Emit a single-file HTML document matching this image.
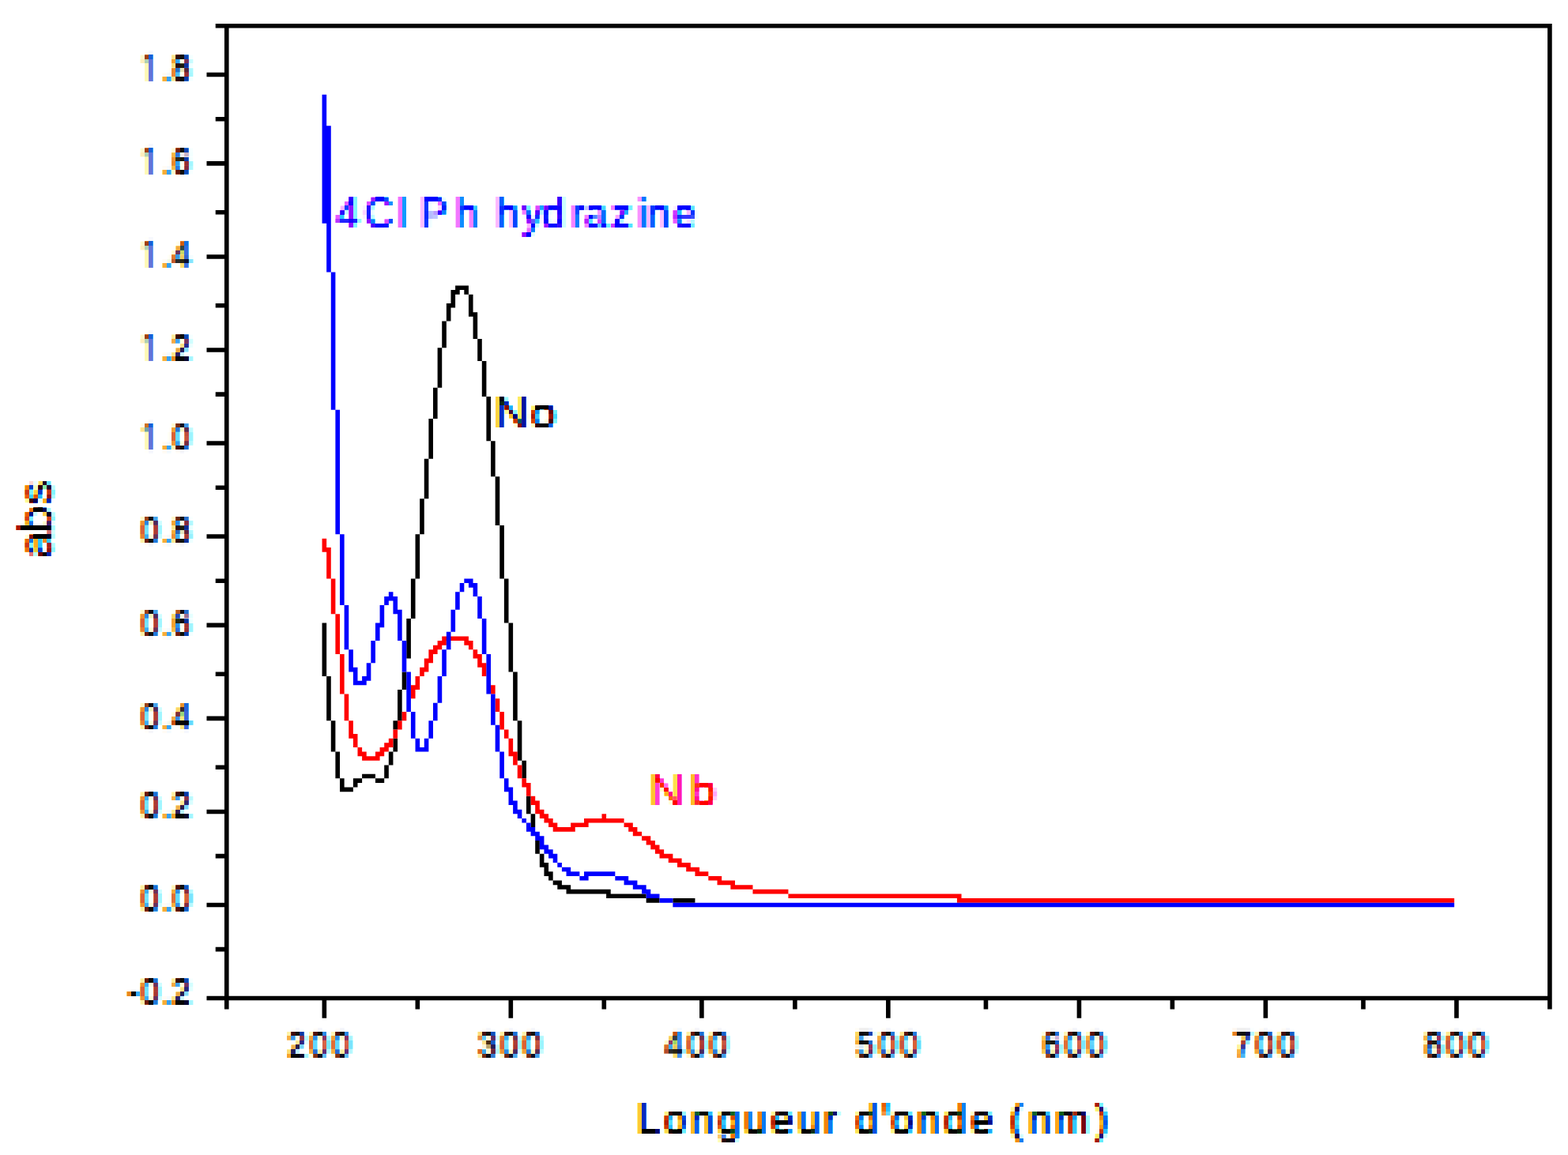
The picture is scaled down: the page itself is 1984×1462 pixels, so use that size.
<!DOCTYPE html>
<html lang="fr">
<head>
<meta charset="utf-8">
<title>Spectre UV-Vis</title>
<style>
html,body{margin:0;padding:0;background:#fff;}
body{width:1984px;height:1462px;overflow:hidden;}
svg{display:block;position:absolute;left:0;top:0;}
text{font-family:"Liberation Sans",sans-serif;white-space:pre;}
.one{font-family:"NanumGothic","Liberation Sans",sans-serif;}
</style>
</head>
<body>
<svg width="1984" height="1462" viewBox="0 0 1984 1462">
<rect width="1984" height="1462" fill="#fff"/>
<defs>
<filter id="pre-yticks" filterUnits="userSpaceOnUse" x="144" y="58" width="112" height="1225" color-interpolation-filters="sRGB">
<feColorMatrix in="SourceGraphic" type="matrix" values="0 0 0 0 0  0 0 0 0 0  0 0 0 0 0  0 -1 0 1 0" result="cov"/>
<feOffset in="cov" dx="0" dy="1" result="o1"/>
<feOffset in="cov" dx="0" dy="-1" result="o2"/>
<feMerge result="fat"><feMergeNode in="cov"/><feMergeNode in="o1"/><feMergeNode in="o2"/></feMerge>
<feGaussianBlur in="fat" stdDeviation="1.8 0.8" result="ink"/>
<feOffset in="ink" dx="2" dy="0" result="inkR"/>
<feOffset in="ink" dx="-2" dy="0" result="inkB"/>
<feColorMatrix in="inkR" type="matrix" values="0 0 0 1 0  0 0 0 0 0  0 0 0 0 0  0 0 0 0 1" result="LR"/>
<feColorMatrix in="ink" type="matrix" values="0 0 0 0 0  0 0 0 1 0  0 0 0 0 0  0 0 0 0 1" result="LG"/>
<feColorMatrix in="inkB" type="matrix" values="0 0 0 0 0  0 0 0 0 0  0 0 0 1 0  0 0 0 0 1" result="LB"/>
<feComposite in="LR" in2="LG" operator="arithmetic" k1="0" k2="1" k3="1" k4="0" result="RG"/>
<feComposite in="RG" in2="LB" operator="arithmetic" k1="0" k2="1" k3="1" k4="0"/>
</filter>
<filter id="post-yticks" filterUnits="userSpaceOnUse" x="144" y="58" width="112" height="1225" color-interpolation-filters="sRGB">
<feMorphology operator="dilate" radius="2"/>
<feColorMatrix type="matrix" values="-1 0 0 0 1  0 -1 0 0 1  0 0 -1 0 1  0 0 0 0 1"/>
</filter>
<clipPath id="vs-yticks"><path d="M146 58h1V1283h-1zM151 58h2V1283h-2zM157 58h1V1283h-1zM162 58h2V1283h-2zM168 58h2V1283h-2zM174 58h1V1283h-1zM179 58h2V1283h-2zM185 58h1V1283h-1zM190 58h2V1283h-2zM196 58h2V1283h-2zM202 58h1V1283h-1zM207 58h2V1283h-2zM213 58h2V1283h-2zM219 58h1V1283h-1zM224 58h2V1283h-2zM230 58h1V1283h-1zM235 58h2V1283h-2zM241 58h2V1283h-2zM247 58h1V1283h-1zM252 58h2V1283h-2z"/></clipPath>
<clipPath id="hs-yticks"><path d="M144 60H256v2H144zM144 66H256v1H144zM144 71H256v2H144zM144 77H256v1H144zM144 82H256v2H144zM144 88H256v2H144zM144 94H256v1H144zM144 99H256v2H144zM144 105H256v2H144zM144 111H256v1H144zM144 116H256v2H144zM144 122H256v1H144zM144 127H256v2H144zM144 133H256v2H144zM144 139H256v1H144zM144 144H256v2H144zM144 150H256v2H144zM144 156H256v1H144zM144 161H256v2H144zM144 167H256v1H144zM144 172H256v2H144zM144 178H256v2H144zM144 184H256v1H144zM144 189H256v2H144zM144 195H256v2H144zM144 201H256v1H144zM144 206H256v2H144zM144 212H256v1H144zM144 217H256v2H144zM144 223H256v2H144zM144 229H256v1H144zM144 234H256v2H144zM144 240H256v1H144zM144 245H256v2H144zM144 251H256v2H144zM144 257H256v1H144zM144 262H256v2H144zM144 268H256v2H144zM144 274H256v1H144zM144 279H256v2H144zM144 285H256v1H144zM144 290H256v2H144zM144 296H256v2H144zM144 302H256v1H144zM144 307H256v2H144zM144 313H256v2H144zM144 319H256v1H144zM144 324H256v2H144zM144 330H256v1H144zM144 335H256v2H144zM144 341H256v2H144zM144 347H256v1H144zM144 352H256v2H144zM144 358H256v1H144zM144 363H256v2H144zM144 369H256v2H144zM144 375H256v1H144zM144 380H256v2H144zM144 386H256v2H144zM144 392H256v1H144zM144 397H256v2H144zM144 403H256v1H144zM144 408H256v2H144zM144 414H256v2H144zM144 420H256v1H144zM144 425H256v2H144zM144 431H256v2H144zM144 437H256v1H144zM144 442H256v2H144zM144 448H256v1H144zM144 453H256v2H144zM144 459H256v2H144zM144 465H256v1H144zM144 470H256v2H144zM144 476H256v2H144zM144 482H256v1H144zM144 487H256v2H144zM144 493H256v1H144zM144 498H256v2H144zM144 504H256v2H144zM144 510H256v1H144zM144 515H256v2H144zM144 521H256v1H144zM144 526H256v2H144zM144 532H256v2H144zM144 538H256v1H144zM144 543H256v2H144zM144 549H256v2H144zM144 555H256v1H144zM144 560H256v2H144zM144 566H256v1H144zM144 571H256v2H144zM144 577H256v2H144zM144 583H256v1H144zM144 588H256v2H144zM144 594H256v2H144zM144 600H256v1H144zM144 605H256v2H144zM144 611H256v1H144zM144 616H256v2H144zM144 622H256v2H144zM144 628H256v1H144zM144 633H256v2H144zM144 639H256v1H144zM144 644H256v2H144zM144 650H256v2H144zM144 656H256v1H144zM144 661H256v2H144zM144 667H256v2H144zM144 673H256v1H144zM144 678H256v2H144zM144 684H256v1H144zM144 689H256v2H144zM144 695H256v2H144zM144 701H256v1H144zM144 706H256v2H144zM144 712H256v2H144zM144 718H256v1H144zM144 723H256v2H144zM144 729H256v1H144zM144 734H256v2H144zM144 740H256v2H144zM144 746H256v1H144zM144 751H256v2H144zM144 757H256v1H144zM144 762H256v2H144zM144 768H256v2H144zM144 774H256v1H144zM144 779H256v2H144zM144 785H256v2H144zM144 791H256v1H144zM144 796H256v2H144zM144 802H256v1H144zM144 807H256v2H144zM144 813H256v2H144zM144 819H256v1H144zM144 824H256v2H144zM144 830H256v2H144zM144 836H256v1H144zM144 841H256v2H144zM144 847H256v1H144zM144 852H256v2H144zM144 858H256v2H144zM144 864H256v1H144zM144 869H256v2H144zM144 875H256v2H144zM144 881H256v1H144zM144 886H256v2H144zM144 892H256v1H144zM144 897H256v2H144zM144 903H256v2H144zM144 909H256v1H144zM144 914H256v2H144zM144 920H256v1H144zM144 925H256v2H144zM144 931H256v2H144zM144 937H256v1H144zM144 942H256v2H144zM144 948H256v2H144zM144 954H256v1H144zM144 959H256v2H144zM144 965H256v1H144zM144 970H256v2H144zM144 976H256v2H144zM144 982H256v1H144zM144 987H256v2H144zM144 993H256v2H144zM144 999H256v1H144zM144 1004H256v2H144zM144 1010H256v1H144zM144 1015H256v2H144zM144 1021H256v2H144zM144 1027H256v1H144zM144 1032H256v2H144zM144 1038H256v2H144zM144 1044H256v1H144zM144 1049H256v2H144zM144 1055H256v1H144zM144 1060H256v2H144zM144 1066H256v2H144zM144 1072H256v1H144zM144 1077H256v2H144zM144 1083H256v1H144zM144 1088H256v2H144zM144 1094H256v2H144zM144 1100H256v1H144zM144 1105H256v2H144zM144 1111H256v2H144zM144 1117H256v1H144zM144 1122H256v2H144zM144 1128H256v1H144zM144 1133H256v2H144zM144 1139H256v2H144zM144 1145H256v1H144zM144 1150H256v2H144zM144 1156H256v2H144zM144 1162H256v1H144zM144 1167H256v2H144zM144 1173H256v1H144zM144 1178H256v2H144zM144 1184H256v2H144zM144 1190H256v1H144zM144 1195H256v2H144zM144 1201H256v1H144zM144 1206H256v2H144zM144 1212H256v2H144zM144 1218H256v1H144zM144 1223H256v2H144zM144 1229H256v2H144zM144 1235H256v1H144zM144 1240H256v2H144zM144 1246H256v1H144zM144 1251H256v2H144zM144 1257H256v2H144zM144 1263H256v1H144zM144 1268H256v2H144zM144 1274H256v2H144zM144 1280H256v1H144z"/></clipPath>
<filter id="pre-xticks" filterUnits="userSpaceOnUse" x="346" y="1294" width="1550" height="57" color-interpolation-filters="sRGB">
<feColorMatrix in="SourceGraphic" type="matrix" values="0 0 0 0 0  0 0 0 0 0  0 0 0 0 0  0 -1 0 1 0" result="cov"/>
<feOffset in="cov" dx="0" dy="1" result="o1"/>
<feOffset in="cov" dx="0" dy="-1" result="o2"/>
<feMerge result="fat"><feMergeNode in="cov"/><feMergeNode in="o1"/><feMergeNode in="o2"/></feMerge>
<feGaussianBlur in="fat" stdDeviation="1.8 0.8" result="ink"/>
<feOffset in="ink" dx="2" dy="0" result="inkR"/>
<feOffset in="ink" dx="-2" dy="0" result="inkB"/>
<feColorMatrix in="inkR" type="matrix" values="0 0 0 1 0  0 0 0 0 0  0 0 0 0 0  0 0 0 0 1" result="LR"/>
<feColorMatrix in="ink" type="matrix" values="0 0 0 0 0  0 0 0 1 0  0 0 0 0 0  0 0 0 0 1" result="LG"/>
<feColorMatrix in="inkB" type="matrix" values="0 0 0 0 0  0 0 0 0 0  0 0 0 1 0  0 0 0 0 1" result="LB"/>
<feComposite in="LR" in2="LG" operator="arithmetic" k1="0" k2="1" k3="1" k4="0" result="RG"/>
<feComposite in="RG" in2="LB" operator="arithmetic" k1="0" k2="1" k3="1" k4="0"/>
</filter>
<filter id="post-xticks" filterUnits="userSpaceOnUse" x="346" y="1294" width="1550" height="57" color-interpolation-filters="sRGB">
<feMorphology operator="dilate" radius="2"/>
<feColorMatrix type="matrix" values="-1 0 0 0 1  0 -1 0 0 1  0 0 -1 0 1  0 0 0 0 1"/>
</filter>
<clipPath id="vs-xticks"><path d="M348 1294h1V1351h-1zM353 1294h2V1351h-2zM359 1294h2V1351h-2zM365 1294h1V1351h-1zM370 1294h2V1351h-2zM376 1294h1V1351h-1zM381 1294h2V1351h-2zM387 1294h2V1351h-2zM393 1294h1V1351h-1zM398 1294h2V1351h-2zM404 1294h2V1351h-2zM410 1294h1V1351h-1zM415 1294h2V1351h-2zM421 1294h1V1351h-1zM426 1294h2V1351h-2zM432 1294h2V1351h-2zM438 1294h1V1351h-1zM443 1294h2V1351h-2zM449 1294h1V1351h-1zM454 1294h2V1351h-2zM460 1294h2V1351h-2zM466 1294h1V1351h-1zM471 1294h2V1351h-2zM477 1294h2V1351h-2zM483 1294h1V1351h-1zM488 1294h2V1351h-2zM494 1294h1V1351h-1zM499 1294h2V1351h-2zM505 1294h2V1351h-2zM511 1294h1V1351h-1zM516 1294h2V1351h-2zM522 1294h2V1351h-2zM528 1294h1V1351h-1zM533 1294h2V1351h-2zM539 1294h1V1351h-1zM544 1294h2V1351h-2zM550 1294h2V1351h-2zM556 1294h1V1351h-1zM561 1294h2V1351h-2zM567 1294h1V1351h-1zM572 1294h2V1351h-2zM578 1294h2V1351h-2zM584 1294h1V1351h-1zM589 1294h2V1351h-2zM595 1294h2V1351h-2zM601 1294h1V1351h-1zM606 1294h2V1351h-2zM612 1294h1V1351h-1zM617 1294h2V1351h-2zM623 1294h2V1351h-2zM629 1294h1V1351h-1zM634 1294h2V1351h-2zM640 1294h2V1351h-2zM646 1294h1V1351h-1zM651 1294h2V1351h-2zM657 1294h1V1351h-1zM662 1294h2V1351h-2zM668 1294h2V1351h-2zM674 1294h1V1351h-1zM679 1294h2V1351h-2zM685 1294h1V1351h-1zM690 1294h2V1351h-2zM696 1294h2V1351h-2zM702 1294h1V1351h-1zM707 1294h2V1351h-2zM713 1294h2V1351h-2zM719 1294h1V1351h-1zM724 1294h2V1351h-2zM730 1294h1V1351h-1zM735 1294h2V1351h-2zM741 1294h2V1351h-2zM747 1294h1V1351h-1zM752 1294h2V1351h-2zM758 1294h1V1351h-1zM763 1294h2V1351h-2zM769 1294h2V1351h-2zM775 1294h1V1351h-1zM780 1294h2V1351h-2zM786 1294h2V1351h-2zM792 1294h1V1351h-1zM797 1294h2V1351h-2zM803 1294h1V1351h-1zM808 1294h2V1351h-2zM814 1294h2V1351h-2zM820 1294h1V1351h-1zM825 1294h2V1351h-2zM831 1294h2V1351h-2zM837 1294h1V1351h-1zM842 1294h2V1351h-2zM848 1294h1V1351h-1zM853 1294h2V1351h-2zM859 1294h2V1351h-2zM865 1294h1V1351h-1zM870 1294h2V1351h-2zM876 1294h1V1351h-1zM881 1294h2V1351h-2zM887 1294h2V1351h-2zM893 1294h1V1351h-1zM898 1294h2V1351h-2zM904 1294h2V1351h-2zM910 1294h1V1351h-1zM915 1294h2V1351h-2zM921 1294h1V1351h-1zM926 1294h2V1351h-2zM932 1294h2V1351h-2zM938 1294h1V1351h-1zM943 1294h2V1351h-2zM949 1294h1V1351h-1zM954 1294h2V1351h-2zM960 1294h2V1351h-2zM966 1294h1V1351h-1zM971 1294h2V1351h-2zM977 1294h2V1351h-2zM983 1294h1V1351h-1zM988 1294h2V1351h-2zM994 1294h1V1351h-1zM999 1294h2V1351h-2zM1005 1294h2V1351h-2zM1011 1294h1V1351h-1zM1016 1294h2V1351h-2zM1022 1294h2V1351h-2zM1028 1294h1V1351h-1zM1033 1294h2V1351h-2zM1039 1294h1V1351h-1zM1044 1294h2V1351h-2zM1050 1294h2V1351h-2zM1056 1294h1V1351h-1zM1061 1294h2V1351h-2zM1067 1294h1V1351h-1zM1072 1294h2V1351h-2zM1078 1294h2V1351h-2zM1084 1294h1V1351h-1zM1089 1294h2V1351h-2zM1095 1294h2V1351h-2zM1101 1294h1V1351h-1zM1106 1294h2V1351h-2zM1112 1294h1V1351h-1zM1117 1294h2V1351h-2zM1123 1294h2V1351h-2zM1129 1294h1V1351h-1zM1134 1294h2V1351h-2zM1140 1294h2V1351h-2zM1146 1294h1V1351h-1zM1151 1294h2V1351h-2zM1157 1294h1V1351h-1zM1162 1294h2V1351h-2zM1168 1294h2V1351h-2zM1174 1294h1V1351h-1zM1179 1294h2V1351h-2zM1185 1294h1V1351h-1zM1190 1294h2V1351h-2zM1196 1294h2V1351h-2zM1202 1294h1V1351h-1zM1207 1294h2V1351h-2zM1213 1294h2V1351h-2zM1219 1294h1V1351h-1zM1224 1294h2V1351h-2zM1230 1294h1V1351h-1zM1235 1294h2V1351h-2zM1241 1294h2V1351h-2zM1247 1294h1V1351h-1zM1252 1294h2V1351h-2zM1258 1294h1V1351h-1zM1263 1294h2V1351h-2zM1269 1294h2V1351h-2zM1275 1294h1V1351h-1zM1280 1294h2V1351h-2zM1286 1294h2V1351h-2zM1292 1294h1V1351h-1zM1297 1294h2V1351h-2zM1303 1294h1V1351h-1zM1308 1294h2V1351h-2zM1314 1294h2V1351h-2zM1320 1294h1V1351h-1zM1325 1294h2V1351h-2zM1331 1294h2V1351h-2zM1337 1294h1V1351h-1zM1342 1294h2V1351h-2zM1348 1294h1V1351h-1zM1353 1294h2V1351h-2zM1359 1294h2V1351h-2zM1365 1294h1V1351h-1zM1370 1294h2V1351h-2zM1376 1294h1V1351h-1zM1381 1294h2V1351h-2zM1387 1294h2V1351h-2zM1393 1294h1V1351h-1zM1398 1294h2V1351h-2zM1404 1294h2V1351h-2zM1410 1294h1V1351h-1zM1415 1294h2V1351h-2zM1421 1294h1V1351h-1zM1426 1294h2V1351h-2zM1432 1294h2V1351h-2zM1438 1294h1V1351h-1zM1443 1294h2V1351h-2zM1449 1294h1V1351h-1zM1454 1294h2V1351h-2zM1460 1294h2V1351h-2zM1466 1294h1V1351h-1zM1471 1294h2V1351h-2zM1477 1294h2V1351h-2zM1483 1294h1V1351h-1zM1488 1294h2V1351h-2zM1494 1294h1V1351h-1zM1499 1294h2V1351h-2zM1505 1294h2V1351h-2zM1511 1294h1V1351h-1zM1516 1294h2V1351h-2zM1522 1294h2V1351h-2zM1528 1294h1V1351h-1zM1533 1294h2V1351h-2zM1539 1294h1V1351h-1zM1544 1294h2V1351h-2zM1550 1294h2V1351h-2zM1556 1294h1V1351h-1zM1561 1294h2V1351h-2zM1567 1294h1V1351h-1zM1572 1294h2V1351h-2zM1578 1294h2V1351h-2zM1584 1294h1V1351h-1zM1589 1294h2V1351h-2zM1595 1294h2V1351h-2zM1601 1294h1V1351h-1zM1606 1294h2V1351h-2zM1612 1294h1V1351h-1zM1617 1294h2V1351h-2zM1623 1294h2V1351h-2zM1629 1294h1V1351h-1zM1634 1294h2V1351h-2zM1640 1294h2V1351h-2zM1646 1294h1V1351h-1zM1651 1294h2V1351h-2zM1657 1294h1V1351h-1zM1662 1294h2V1351h-2zM1668 1294h2V1351h-2zM1674 1294h1V1351h-1zM1679 1294h2V1351h-2zM1685 1294h1V1351h-1zM1690 1294h2V1351h-2zM1696 1294h2V1351h-2zM1702 1294h1V1351h-1zM1707 1294h2V1351h-2zM1713 1294h2V1351h-2zM1719 1294h1V1351h-1zM1724 1294h2V1351h-2zM1730 1294h1V1351h-1zM1735 1294h2V1351h-2zM1741 1294h2V1351h-2zM1747 1294h1V1351h-1zM1752 1294h2V1351h-2zM1758 1294h1V1351h-1zM1763 1294h2V1351h-2zM1769 1294h2V1351h-2zM1775 1294h1V1351h-1zM1780 1294h2V1351h-2zM1786 1294h2V1351h-2zM1792 1294h1V1351h-1zM1797 1294h2V1351h-2zM1803 1294h1V1351h-1zM1808 1294h2V1351h-2zM1814 1294h2V1351h-2zM1820 1294h1V1351h-1zM1825 1294h2V1351h-2zM1831 1294h2V1351h-2zM1837 1294h1V1351h-1zM1842 1294h2V1351h-2zM1848 1294h1V1351h-1zM1853 1294h2V1351h-2zM1859 1294h2V1351h-2zM1865 1294h1V1351h-1zM1870 1294h2V1351h-2zM1876 1294h1V1351h-1zM1881 1294h2V1351h-2zM1887 1294h2V1351h-2zM1893 1294h1V1351h-1z"/></clipPath>
<clipPath id="hs-xticks"><path d="M346 1296H1896v2H346zM346 1302H1896v2H346zM346 1308H1896v1H346zM346 1313H1896v2H346zM346 1319H1896v1H346zM346 1324H1896v2H346zM346 1330H1896v2H346zM346 1336H1896v1H346zM346 1341H1896v2H346zM346 1347H1896v2H346z"/></clipPath>
<filter id="pre-xtitle" filterUnits="userSpaceOnUse" x="790" y="1384" width="629" height="73" color-interpolation-filters="sRGB">
<feColorMatrix in="SourceGraphic" type="matrix" values="0 0 0 0 0  0 0 0 0 0  0 0 0 0 0  0 -1 0 1 0" result="cov"/>
<feGaussianBlur in="cov" stdDeviation="1.3 0.7" result="ink"/>
<feOffset in="ink" dx="2" dy="0" result="inkR"/>
<feOffset in="ink" dx="-2" dy="0" result="inkB"/>
<feColorMatrix in="inkR" type="matrix" values="0 0 0 1 0  0 0 0 0 0  0 0 0 0 0  0 0 0 0 1" result="LR"/>
<feColorMatrix in="ink" type="matrix" values="0 0 0 0 0  0 0 0 1 0  0 0 0 0 0  0 0 0 0 1" result="LG"/>
<feColorMatrix in="inkB" type="matrix" values="0 0 0 0 0  0 0 0 0 0  0 0 0 1 0  0 0 0 0 1" result="LB"/>
<feComposite in="LR" in2="LG" operator="arithmetic" k1="0" k2="1" k3="1" k4="0" result="RG"/>
<feComposite in="RG" in2="LB" operator="arithmetic" k1="0" k2="1" k3="1" k4="0"/>
</filter>
<filter id="post-xtitle" filterUnits="userSpaceOnUse" x="790" y="1384" width="629" height="73" color-interpolation-filters="sRGB">
<feMorphology operator="dilate" radius="2"/>
<feColorMatrix type="matrix" values="-1 0 0 0 1  0 -1 0 0 1  0 0 -1 0 1  0 0 0 0 1"/>
</filter>
<clipPath id="vs-xtitle"><path d="M792 1384h1V1457h-1zM797 1384h2V1457h-2zM803 1384h1V1457h-1zM808 1384h2V1457h-2zM814 1384h2V1457h-2zM820 1384h1V1457h-1zM825 1384h2V1457h-2zM831 1384h2V1457h-2zM837 1384h1V1457h-1zM842 1384h2V1457h-2zM848 1384h1V1457h-1zM853 1384h2V1457h-2zM859 1384h2V1457h-2zM865 1384h1V1457h-1zM870 1384h2V1457h-2zM876 1384h1V1457h-1zM881 1384h2V1457h-2zM887 1384h2V1457h-2zM893 1384h1V1457h-1zM898 1384h2V1457h-2zM904 1384h2V1457h-2zM910 1384h1V1457h-1zM915 1384h2V1457h-2zM921 1384h1V1457h-1zM926 1384h2V1457h-2zM932 1384h2V1457h-2zM938 1384h1V1457h-1zM943 1384h2V1457h-2zM949 1384h1V1457h-1zM954 1384h2V1457h-2zM960 1384h2V1457h-2zM966 1384h1V1457h-1zM971 1384h2V1457h-2zM977 1384h2V1457h-2zM983 1384h1V1457h-1zM988 1384h2V1457h-2zM994 1384h1V1457h-1zM999 1384h2V1457h-2zM1005 1384h2V1457h-2zM1011 1384h1V1457h-1zM1016 1384h2V1457h-2zM1022 1384h2V1457h-2zM1028 1384h1V1457h-1zM1033 1384h2V1457h-2zM1039 1384h1V1457h-1zM1044 1384h2V1457h-2zM1050 1384h2V1457h-2zM1056 1384h1V1457h-1zM1061 1384h2V1457h-2zM1067 1384h1V1457h-1zM1072 1384h2V1457h-2zM1078 1384h2V1457h-2zM1084 1384h1V1457h-1zM1089 1384h2V1457h-2zM1095 1384h2V1457h-2zM1101 1384h1V1457h-1zM1106 1384h2V1457h-2zM1112 1384h1V1457h-1zM1117 1384h2V1457h-2zM1123 1384h2V1457h-2zM1129 1384h1V1457h-1zM1134 1384h2V1457h-2zM1140 1384h2V1457h-2zM1146 1384h1V1457h-1zM1151 1384h2V1457h-2zM1157 1384h1V1457h-1zM1162 1384h2V1457h-2zM1168 1384h2V1457h-2zM1174 1384h1V1457h-1zM1179 1384h2V1457h-2zM1185 1384h1V1457h-1zM1190 1384h2V1457h-2zM1196 1384h2V1457h-2zM1202 1384h1V1457h-1zM1207 1384h2V1457h-2zM1213 1384h2V1457h-2zM1219 1384h1V1457h-1zM1224 1384h2V1457h-2zM1230 1384h1V1457h-1zM1235 1384h2V1457h-2zM1241 1384h2V1457h-2zM1247 1384h1V1457h-1zM1252 1384h2V1457h-2zM1258 1384h1V1457h-1zM1263 1384h2V1457h-2zM1269 1384h2V1457h-2zM1275 1384h1V1457h-1zM1280 1384h2V1457h-2zM1286 1384h2V1457h-2zM1292 1384h1V1457h-1zM1297 1384h2V1457h-2zM1303 1384h1V1457h-1zM1308 1384h2V1457h-2zM1314 1384h2V1457h-2zM1320 1384h1V1457h-1zM1325 1384h2V1457h-2zM1331 1384h2V1457h-2zM1337 1384h1V1457h-1zM1342 1384h2V1457h-2zM1348 1384h1V1457h-1zM1353 1384h2V1457h-2zM1359 1384h2V1457h-2zM1365 1384h1V1457h-1zM1370 1384h2V1457h-2zM1376 1384h1V1457h-1zM1381 1384h2V1457h-2zM1387 1384h2V1457h-2zM1393 1384h1V1457h-1zM1398 1384h2V1457h-2zM1404 1384h2V1457h-2zM1410 1384h1V1457h-1zM1415 1384h2V1457h-2z"/></clipPath>
<clipPath id="hs-xtitle"><path d="M790 1386H1419v2H790zM790 1392H1419v2H790zM790 1398H1419v1H790zM790 1403H1419v2H790zM790 1409H1419v1H790zM790 1414H1419v2H790zM790 1420H1419v2H790zM790 1426H1419v1H790zM790 1431H1419v2H790zM790 1437H1419v2H790zM790 1443H1419v1H790zM790 1448H1419v2H790zM790 1454H1419v1H790z"/></clipPath>
<filter id="pre-ytitle" filterUnits="userSpaceOnUse" x="3" y="592" width="79" height="129" color-interpolation-filters="sRGB">
<feColorMatrix in="SourceGraphic" type="matrix" values="0 0 0 0 0  0 0 0 0 0  0 0 0 0 0  0 -1 0 1 0" result="cov"/>
<feGaussianBlur in="cov" stdDeviation="1.3 0.7" result="ink"/>
<feOffset in="ink" dx="2" dy="0" result="inkR"/>
<feOffset in="ink" dx="-2" dy="0" result="inkB"/>
<feColorMatrix in="inkR" type="matrix" values="0 0 0 1 0  0 0 0 0 0  0 0 0 0 0  0 0 0 0 1" result="LR"/>
<feColorMatrix in="ink" type="matrix" values="0 0 0 0 0  0 0 0 1 0  0 0 0 0 0  0 0 0 0 1" result="LG"/>
<feColorMatrix in="inkB" type="matrix" values="0 0 0 0 0  0 0 0 0 0  0 0 0 1 0  0 0 0 0 1" result="LB"/>
<feComposite in="LR" in2="LG" operator="arithmetic" k1="0" k2="1" k3="1" k4="0" result="RG"/>
<feComposite in="RG" in2="LB" operator="arithmetic" k1="0" k2="1" k3="1" k4="0"/>
</filter>
<filter id="post-ytitle" filterUnits="userSpaceOnUse" x="3" y="592" width="79" height="129" color-interpolation-filters="sRGB">
<feMorphology operator="dilate" radius="2"/>
<feColorMatrix type="matrix" values="-1 0 0 0 1  0 -1 0 0 1  0 0 -1 0 1  0 0 0 0 1"/>
</filter>
<clipPath id="vs-ytitle"><path d="M5 592h2V721h-2zM11 592h1V721h-1zM16 592h2V721h-2zM22 592h2V721h-2zM28 592h1V721h-1zM33 592h2V721h-2zM39 592h1V721h-1zM44 592h2V721h-2zM50 592h2V721h-2zM56 592h1V721h-1zM61 592h2V721h-2zM67 592h1V721h-1zM72 592h2V721h-2zM78 592h2V721h-2z"/></clipPath>
<clipPath id="hs-ytitle"><path d="M3 594H82v2H3zM3 600H82v1H3zM3 605H82v2H3zM3 611H82v1H3zM3 616H82v2H3zM3 622H82v2H3zM3 628H82v1H3zM3 633H82v2H3zM3 639H82v1H3zM3 644H82v2H3zM3 650H82v2H3zM3 656H82v1H3zM3 661H82v2H3zM3 667H82v2H3zM3 673H82v1H3zM3 678H82v2H3zM3 684H82v1H3zM3 689H82v2H3zM3 695H82v2H3zM3 701H82v1H3zM3 706H82v2H3zM3 712H82v2H3zM3 718H82v1H3z"/></clipPath>
<filter id="pre-label-no" filterUnits="userSpaceOnUse" x="615" y="491" width="107" height="62" color-interpolation-filters="sRGB">
<feColorMatrix in="SourceGraphic" type="matrix" values="0 0 0 0 0  0 0 0 0 0  0 0 0 0 0  0 -1 0 1 0" result="cov"/>
<feGaussianBlur in="cov" stdDeviation="1.3 0.7" result="ink"/>
<feOffset in="ink" dx="2" dy="0" result="inkR"/>
<feOffset in="ink" dx="-2" dy="0" result="inkB"/>
<feColorMatrix in="inkR" type="matrix" values="0 0 0 1 0  0 0 0 0 0  0 0 0 0 0  0 0 0 0 1" result="LR"/>
<feColorMatrix in="ink" type="matrix" values="0 0 0 0 0  0 0 0 1 0  0 0 0 0 0  0 0 0 0 1" result="LG"/>
<feColorMatrix in="inkB" type="matrix" values="0 0 0 0 0  0 0 0 0 0  0 0 0 1 0  0 0 0 0 1" result="LB"/>
<feComposite in="LR" in2="LG" operator="arithmetic" k1="0" k2="1" k3="1" k4="0" result="RG"/>
<feComposite in="RG" in2="LB" operator="arithmetic" k1="0" k2="1" k3="1" k4="0"/>
</filter>
<filter id="post-label-no" filterUnits="userSpaceOnUse" x="615" y="491" width="107" height="62" color-interpolation-filters="sRGB">
<feMorphology operator="dilate" radius="2"/>
<feColorMatrix type="matrix" values="-1 0 0 0 1  0 -1 0 0 1  0 0 -1 0 1  0 0 0 0 1"/>
</filter>
<clipPath id="vs-label-no"><path d="M617 491h2V553h-2zM623 491h2V553h-2zM629 491h1V553h-1zM634 491h2V553h-2zM640 491h2V553h-2zM646 491h1V553h-1zM651 491h2V553h-2zM657 491h1V553h-1zM662 491h2V553h-2zM668 491h2V553h-2zM674 491h1V553h-1zM679 491h2V553h-2zM685 491h1V553h-1zM690 491h2V553h-2zM696 491h2V553h-2zM702 491h1V553h-1zM707 491h2V553h-2zM713 491h2V553h-2zM719 491h1V553h-1z"/></clipPath>
<clipPath id="hs-label-no"><path d="M615 493H722v1H615zM615 498H722v2H615zM615 504H722v2H615zM615 510H722v1H615zM615 515H722v2H615zM615 521H722v1H615zM615 526H722v2H615zM615 532H722v2H615zM615 538H722v1H615zM615 543H722v2H615zM615 549H722v2H615z"/></clipPath>
<filter id="pre-label-blue" filterUnits="userSpaceOnUse" x="413" y="238" width="483" height="67" color-interpolation-filters="sRGB">
<feColorMatrix in="SourceGraphic" type="matrix" values="0 0 0 0 0  0 0 0 0 0  0 0 0 0 0  0 -1 0 1 0" result="cov"/>
<feGaussianBlur in="cov" stdDeviation="1.3 0.7" result="ink"/>
<feOffset in="ink" dx="2" dy="0" result="inkR"/>
<feOffset in="ink" dx="-2" dy="0" result="inkB"/>
<feColorMatrix in="inkR" type="matrix" values="0 0 0 1 0  0 0 0 0 0  0 0 0 0 0  0 0 0 0 1" result="LR"/>
<feColorMatrix in="ink" type="matrix" values="0 0 0 0 0  0 0 0 1 0  0 0 0 0 0  0 0 0 0 1" result="LG"/>
<feColorMatrix in="inkB" type="matrix" values="0 0 0 0 0  0 0 0 0 0  0 0 0 1 0  0 0 0 0 1" result="LB"/>
<feComposite in="LR" in2="LG" operator="arithmetic" k1="0" k2="1" k3="1" k4="0" result="RG"/>
<feComposite in="RG" in2="LB" operator="arithmetic" k1="0" k2="1" k3="1" k4="0"/>
</filter>
<filter id="post-label-blue" filterUnits="userSpaceOnUse" x="413" y="238" width="483" height="67" color-interpolation-filters="sRGB">
<feMorphology operator="dilate" radius="2"/>
<feColorMatrix type="matrix" values="-1 0 0 0 1  0 -1 0 0 1  0 0 0 0 1  0 0 0 0 1"/>
</filter>
<clipPath id="vs-label-blue"><path d="M415 238h2V305h-2zM421 238h1V305h-1zM426 238h2V305h-2zM432 238h2V305h-2zM438 238h1V305h-1zM443 238h2V305h-2zM449 238h1V305h-1zM454 238h2V305h-2zM460 238h2V305h-2zM466 238h1V305h-1zM471 238h2V305h-2zM477 238h2V305h-2zM483 238h1V305h-1zM488 238h2V305h-2zM494 238h1V305h-1zM499 238h2V305h-2zM505 238h2V305h-2zM511 238h1V305h-1zM516 238h2V305h-2zM522 238h2V305h-2zM528 238h1V305h-1zM533 238h2V305h-2zM539 238h1V305h-1zM544 238h2V305h-2zM550 238h2V305h-2zM556 238h1V305h-1zM561 238h2V305h-2zM567 238h1V305h-1zM572 238h2V305h-2zM578 238h2V305h-2zM584 238h1V305h-1zM589 238h2V305h-2zM595 238h2V305h-2zM601 238h1V305h-1zM606 238h2V305h-2zM612 238h1V305h-1zM617 238h2V305h-2zM623 238h2V305h-2zM629 238h1V305h-1zM634 238h2V305h-2zM640 238h2V305h-2zM646 238h1V305h-1zM651 238h2V305h-2zM657 238h1V305h-1zM662 238h2V305h-2zM668 238h2V305h-2zM674 238h1V305h-1zM679 238h2V305h-2zM685 238h1V305h-1zM690 238h2V305h-2zM696 238h2V305h-2zM702 238h1V305h-1zM707 238h2V305h-2zM713 238h2V305h-2zM719 238h1V305h-1zM724 238h2V305h-2zM730 238h1V305h-1zM735 238h2V305h-2zM741 238h2V305h-2zM747 238h1V305h-1zM752 238h2V305h-2zM758 238h1V305h-1zM763 238h2V305h-2zM769 238h2V305h-2zM775 238h1V305h-1zM780 238h2V305h-2zM786 238h2V305h-2zM792 238h1V305h-1zM797 238h2V305h-2zM803 238h1V305h-1zM808 238h2V305h-2zM814 238h2V305h-2zM820 238h1V305h-1zM825 238h2V305h-2zM831 238h2V305h-2zM837 238h1V305h-1zM842 238h2V305h-2zM848 238h1V305h-1zM853 238h2V305h-2zM859 238h2V305h-2zM865 238h1V305h-1zM870 238h2V305h-2zM876 238h1V305h-1zM881 238h2V305h-2zM887 238h2V305h-2zM893 238h1V305h-1z"/></clipPath>
<clipPath id="hs-label-blue"><path d="M413 240H896v1H413zM413 245H896v2H413zM413 251H896v2H413zM413 257H896v1H413zM413 262H896v2H413zM413 268H896v2H413zM413 274H896v1H413zM413 279H896v2H413zM413 285H896v1H413zM413 290H896v2H413zM413 296H896v2H413zM413 302H896v1H413z"/></clipPath>
<filter id="pre-label-red" filterUnits="userSpaceOnUse" x="812" y="968" width="112" height="62" color-interpolation-filters="sRGB">
<feColorMatrix in="SourceGraphic" type="matrix" values="0 0 0 0 0  0 0 0 0 0  0 0 0 0 0  0 -1 0 1 0" result="cov"/>
<feGaussianBlur in="cov" stdDeviation="1.3 0.7" result="ink"/>
<feOffset in="ink" dx="2" dy="0" result="inkR"/>
<feOffset in="ink" dx="-2" dy="0" result="inkB"/>
<feColorMatrix in="inkR" type="matrix" values="0 0 0 1 0  0 0 0 0 0  0 0 0 0 0  0 0 0 0 1" result="LR"/>
<feColorMatrix in="ink" type="matrix" values="0 0 0 0 0  0 0 0 1 0  0 0 0 0 0  0 0 0 0 1" result="LG"/>
<feColorMatrix in="inkB" type="matrix" values="0 0 0 0 0  0 0 0 0 0  0 0 0 1 0  0 0 0 0 1" result="LB"/>
<feComposite in="LR" in2="LG" operator="arithmetic" k1="0" k2="1" k3="1" k4="0" result="RG"/>
<feComposite in="RG" in2="LB" operator="arithmetic" k1="0" k2="1" k3="1" k4="0"/>
</filter>
<filter id="post-label-red" filterUnits="userSpaceOnUse" x="812" y="968" width="112" height="62" color-interpolation-filters="sRGB">
<feMorphology operator="dilate" radius="2"/>
<feColorMatrix type="matrix" values="0 0 0 0 1  0 -1 0 0 1  0 0 -1 0 1  0 0 0 0 1"/>
</filter>
<clipPath id="vs-label-red"><path d="M814 968h2V1030h-2zM820 968h1V1030h-1zM825 968h2V1030h-2zM831 968h2V1030h-2zM837 968h1V1030h-1zM842 968h2V1030h-2zM848 968h1V1030h-1zM853 968h2V1030h-2zM859 968h2V1030h-2zM865 968h1V1030h-1zM870 968h2V1030h-2zM876 968h1V1030h-1zM881 968h2V1030h-2zM887 968h2V1030h-2zM893 968h1V1030h-1zM898 968h2V1030h-2zM904 968h2V1030h-2zM910 968h1V1030h-1zM915 968h2V1030h-2zM921 968h1V1030h-1z"/></clipPath>
<clipPath id="hs-label-red"><path d="M812 970H924v2H812zM812 976H924v2H812zM812 982H924v1H812zM812 987H924v2H812zM812 993H924v2H812zM812 999H924v1H812zM812 1004H924v2H812zM812 1010H924v1H812zM812 1015H924v2H812zM812 1021H924v2H812zM812 1027H924v1H812z"/></clipPath>
</defs>
<g id="yticks" filter="url(#post-yticks)" style="mix-blend-mode:multiply">
<g clip-path="url(#vs-yticks)"><g clip-path="url(#hs-yticks)">
<g filter="url(#pre-yticks)">
<text transform="translate(176.08 102.05) scale(0.85 0.9078)" x="0 34.37 48.58" y="0" font-size="50.56" fill="#000" stroke="#fff" stroke-width="0.3"><tspan class="one" font-size="48.59">1</tspan>.8</text>
<text transform="translate(176.08 220.07) scale(0.85 0.9078)" x="0 34.37 48.58" y="0" font-size="50.56" fill="#000" stroke="#fff" stroke-width="0.3"><tspan class="one" font-size="48.59">1</tspan>.6</text>
<text transform="translate(176.08 338.09) scale(0.85 0.9078)" x="0 34.37 48.58" y="0" font-size="50.56" fill="#000" stroke="#fff" stroke-width="0.3"><tspan class="one" font-size="48.59">1</tspan>.4</text>
<text transform="translate(176.08 456.11) scale(0.85 0.9078)" x="0 34.37 48.58" y="0" font-size="50.56" fill="#000" stroke="#fff" stroke-width="0.3"><tspan class="one" font-size="48.59">1</tspan>.2</text>
<text transform="translate(176.08 568.51) scale(0.85 0.9078)" x="0 34.37 48.58" y="0" font-size="50.56" fill="#000" stroke="#fff" stroke-width="0.3"><tspan class="one" font-size="48.59">1</tspan>.0</text>
<text transform="translate(178.05 686.53) scale(0.85 0.9078)" x="0 32.06 46.27" y="0" font-size="50.56" fill="#000" stroke="#fff" stroke-width="0.3">0.8</text>
<text transform="translate(178.05 804.55) scale(0.85 0.9078)" x="0 32.06 46.27" y="0" font-size="50.56" fill="#000" stroke="#fff" stroke-width="0.3">0.6</text>
<text transform="translate(178.05 922.57) scale(0.85 0.9078)" x="0 32.06 46.27" y="0" font-size="50.56" fill="#000" stroke="#fff" stroke-width="0.3">0.4</text>
<text transform="translate(178.05 1034.97) scale(0.85 0.9078)" x="0 32.06 46.27" y="0" font-size="50.56" fill="#000" stroke="#fff" stroke-width="0.3">0.2</text>
<text transform="translate(178.05 1152.99) scale(0.85 0.9078)" x="0 32.06 46.27" y="0" font-size="50.56" fill="#000" stroke="#fff" stroke-width="0.3">0.0</text>
<text transform="translate(161.48 1271.01) scale(0.85 0.9078)" x="0 19.5 51.55 65.76" y="0" font-size="50.56" fill="#000" stroke="#fff" stroke-width="0.3">-0.2</text>
</g>
</g></g>
</g>
<g id="xticks" filter="url(#post-xticks)" style="mix-blend-mode:multiply">
<g clip-path="url(#vs-xticks)"><g clip-path="url(#hs-xticks)">
<g filter="url(#pre-xticks)">
<text transform="translate(363.44 1338.45) scale(0.85 0.9078)" x="0 33.05 66.09" y="0" font-size="50.56" fill="#000" stroke="#fff" stroke-width="0.3">200</text>
<text transform="translate(605.02 1338.45) scale(0.85 0.9078)" x="0 33.05 66.09" y="0" font-size="50.56" fill="#000" stroke="#fff" stroke-width="0.3">300</text>
<text transform="translate(840.97 1338.45) scale(0.85 0.9078)" x="0 33.05 66.09" y="0" font-size="50.56" fill="#000" stroke="#fff" stroke-width="0.3">400</text>
<text transform="translate(1082.55 1338.45) scale(0.85 0.9078)" x="0 33.05 66.09" y="0" font-size="50.56" fill="#000" stroke="#fff" stroke-width="0.3">500</text>
<text transform="translate(1318.5 1338.45) scale(0.85 0.9078)" x="0 33.05 66.09" y="0" font-size="50.56" fill="#000" stroke="#fff" stroke-width="0.3">600</text>
<text transform="translate(1560.08 1338.45) scale(0.85 0.9078)" x="0 33.05 66.09" y="0" font-size="50.56" fill="#000" stroke="#fff" stroke-width="0.3">700</text>
<text transform="translate(1801.65 1338.45) scale(0.85 0.9078)" x="0 33.05 66.09" y="0" font-size="50.56" fill="#000" stroke="#fff" stroke-width="0.3">800</text>
</g>
</g></g>
</g>
<g id="xtitle" filter="url(#post-xtitle)" style="mix-blend-mode:multiply">
<g clip-path="url(#vs-xtitle)"><g clip-path="url(#hs-xtitle)">
<g filter="url(#pre-xtitle)">
<text transform="translate(806.42 1434.7) scale(0.86 0.8942)" x="0 39.2 78.39 117.59 156.78 195.98 235.17 274.37 300.5 320.1 359.29 372.36 411.55 450.75 489.94 529.14 547.43 574.87 614.06 672.85" y="0" font-size="59.94" fill="#000" stroke="#000" stroke-width="0.4">Longueur d'onde (nm)</text>
</g>
</g></g>
</g>
<g id="ytitle" filter="url(#post-ytitle)" style="mix-blend-mode:multiply">
<g clip-path="url(#vs-ytitle)"><g clip-path="url(#hs-ytitle)">
<g filter="url(#pre-ytitle)">
<text transform="translate(64.85 706.55) rotate(-90) scale(1.0004 1)" x="0 32.02 67.98" y="0" font-size="59.94" fill="#000">abs</text>
</g>
</g></g>
</g>
<g id="label-no" filter="url(#post-label-no)" style="mix-blend-mode:multiply">
<g clip-path="url(#vs-label-no)"><g clip-path="url(#hs-label-no)">
<g filter="url(#pre-label-no)">
<text transform="translate(625.81 541.32) scale(1 0.9035)" x="0 44.66" y="0" font-size="59.94" fill="#000">No</text>
</g>
</g></g>
</g>
<g id="label-blue" filter="url(#post-label-blue)" style="mix-blend-mode:multiply">
<g clip-path="url(#vs-label-blue)"><g clip-path="url(#hs-label-blue)">
<g filter="url(#pre-label-blue)">
<text transform="translate(424.96 288.22) scale(0.86 0.8942)" x="0 41.16 90.8 103.87 123.47 175.73 214.92 234.52 273.71 302.46 345.57 365.17 404.37 443.56 456.63 495.82" y="0" font-size="59.94" fill="#00f" stroke="#00f" stroke-width="0.4">4Cl Ph hydrazine</text>
</g>
</g></g>
</g>
<g id="label-red" filter="url(#post-label-red)" style="mix-blend-mode:multiply">
<g clip-path="url(#vs-label-red)"><g clip-path="url(#hs-label-red)">
<g filter="url(#pre-label-red)">
<text transform="translate(822.44 1019.02) scale(1 0.9035)" x="0 50.84" y="0" font-size="59.94" fill="#f00">Nb</text>
</g>
</g></g>
</g>

<g id="frame"><path fill="#000" d="M272.71 29.9H1963.73V35.52H272.71ZM283.95 29.9H289.57V1277.54H283.95ZM1958.11 29.9H1963.73V1277.54H1958.11ZM261.48 1260.68H1963.73V1266.3H261.48ZM261.48 91.72H283.95V97.34H261.48ZM261.48 204.12H283.95V209.74H261.48ZM261.48 322.14H283.95V327.76H261.48ZM261.48 440.16H283.95V445.78H261.48ZM261.48 558.18H283.95V563.8H261.48ZM261.48 676.2H283.95V681.82H261.48ZM261.48 788.6H283.95V794.22H261.48ZM261.48 906.62H283.95V912.24H261.48ZM261.48 1024.64H283.95V1030.26H261.48ZM261.48 1142.66H283.95V1148.28H261.48ZM272.71 147.92H283.95V153.54H272.71ZM272.71 265.94H283.95V271.56H272.71ZM272.71 383.96H283.95V389.58H272.71ZM272.71 496.36H283.95V501.98H272.71ZM272.71 614.38H283.95V620H272.71ZM272.71 732.4H283.95V738.02H272.71ZM272.71 850.42H283.95V856.04H272.71ZM272.71 968.44H283.95V974.06H272.71ZM272.71 1080.84H283.95V1086.46H272.71ZM272.71 1198.86H283.95V1204.48H272.71ZM407.55 1266.3H413.16V1288.78H407.55ZM643.5 1266.3H649.12V1288.78H643.5ZM885.08 1266.3H890.69V1288.78H885.08ZM1121.03 1266.3H1126.65V1288.78H1121.03ZM1362.61 1266.3H1368.22V1288.78H1362.61ZM1598.56 1266.3H1604.18V1288.78H1598.56ZM1840.14 1266.3H1845.75V1288.78H1840.14ZM525.52 1266.3H531.14V1277.54H525.52ZM761.48 1266.3H767.1V1277.54H761.48ZM1003.05 1266.3H1008.67V1277.54H1003.05ZM1244.63 1266.3H1250.25V1277.54H1244.63ZM1480.58 1266.3H1486.2V1277.54H1480.58ZM1722.16 1266.3H1727.78V1277.54H1722.16Z"/></g>
<g id="curves">
<path fill="#000" d="M407.55 788.6H413.16V856.04H407.55ZM413.16 856.04H418.78V912.24H413.16ZM418.78 912.24H424.4V951.58H418.78ZM424.4 951.58H430.02V985.3H424.4ZM430.02 985.3H435.64V1002.16H430.02ZM430.02 996.54H446.87V1002.16H430.02ZM446.87 985.3H452.49V996.54H446.87ZM446.87 985.3H458.11V990.92H446.87ZM458.11 979.68H474.96V985.3H458.11ZM474.96 985.3H486.2V990.92H474.96ZM486.2 968.44H491.82V985.3H486.2ZM491.82 951.58H497.43V968.44H491.82ZM497.43 912.24H503.05V923.48H497.43ZM497.43 934.72H503.05V951.58H497.43ZM503.05 872.9H508.67V912.24H503.05ZM508.67 850.42H514.29V872.9H508.67ZM514.29 782.98H519.91V833.56H514.29ZM519.91 732.4H525.52V782.98H519.91ZM525.52 676.2H531.14V732.4H525.52ZM531.14 631.24H536.76V676.2H531.14ZM536.76 580.66H542.38V631.24H536.76ZM542.38 530.08H548V580.66H542.38ZM548 490.74H553.61V530.08H548ZM553.61 440.16H559.23V490.74H553.61ZM559.23 406.44H564.85V440.16H559.23ZM564.85 383.96H570.47V406.44H564.85ZM570.47 367.1H576.09V389.58H570.47ZM576.09 361.48H581.7V372.72H576.09ZM581.7 361.48H587.32V367.1H581.7ZM587.32 361.48H592.94V372.72H587.32ZM592.94 372.72H598.56V400.82H592.94ZM598.56 395.2H604.18V428.92H598.56ZM604.18 428.92H609.79V457.02H604.18ZM609.79 457.02H615.41V501.98H609.79ZM615.41 501.98H621.03V558.18H615.41ZM621.03 558.18H626.65V603.14H621.03ZM626.65 603.14H632.27V664.96H626.65ZM632.27 664.96H637.88V732.4H632.27ZM637.88 732.4H643.5V788.6H637.88ZM643.5 788.6H649.12V850.42H643.5ZM649.12 850.42H654.74V912.24H649.12ZM654.74 912.24H660.36V962.82H654.74ZM660.36 962.82H665.97V985.3H660.36ZM665.97 1007.78H671.59V1030.26H665.97ZM671.59 1030.26H677.21V1047.12H671.59ZM677.21 1063.98H682.83V1080.84H677.21ZM682.83 1080.84H688.45V1097.7H682.83ZM688.45 1092.08H694.06V1108.94H688.45ZM694.06 1103.32H699.68V1114.56H694.06ZM699.68 1114.56H710.92V1120.18H699.68ZM705.3 1120.18H722.15V1125.8H705.3ZM716.54 1125.8H772.72V1131.42H716.54ZM767.1 1131.42H817.66V1137.04H767.1ZM817.66 1137.04H834.51V1142.66H817.66ZM851.37 1137.04H879.46V1142.66H851.37Z"/>
<path fill="#f00" d="M407.55 681.82H413.16V698.68H407.55ZM413.16 693.06H418.78V732.4H413.16ZM418.78 732.4H424.4V777.36H418.78ZM424.4 777.36H430.02V827.94H424.4ZM430.02 827.94H435.64V878.52H430.02ZM435.64 878.52H441.25V912.24H435.64ZM441.25 912.24H446.87V934.72H441.25ZM446.87 929.1H452.49V945.96H446.87ZM452.49 945.96H458.11V957.2H452.49ZM458.11 951.58H463.73V962.82H458.11ZM458.11 957.2H480.58V962.82H458.11ZM474.96 951.58H480.58V962.82H474.96ZM480.58 945.96H486.2V957.2H480.58ZM486.2 940.34H491.82V951.58H486.2ZM491.82 934.72H497.43V945.96H491.82ZM497.43 923.48H503.05V934.72H497.43ZM503.05 912.24H508.67V923.48H503.05ZM508.67 901H514.29V912.24H508.67ZM519.91 867.28H525.52V884.14H519.91ZM525.52 856.04H531.14V872.9H525.52ZM531.14 844.8H536.76V856.04H531.14ZM536.76 833.56H542.38V850.42H536.76ZM542.38 822.32H548V839.18H542.38ZM548 816.7H553.61V827.94H548ZM553.61 811.08H559.23V822.32H553.61ZM559.23 805.46H564.85V816.7H559.23ZM559.23 805.46H592.94V811.08H559.23ZM587.32 805.46H592.94V816.7H587.32ZM592.94 811.08H598.56V822.32H592.94ZM598.56 822.32H604.18V833.56H598.56ZM604.18 827.94H609.79V844.8H604.18ZM609.79 839.18H615.41V856.04H609.79ZM621.03 867.28H626.65V878.52H621.03ZM626.65 884.14H632.27V901H626.65ZM632.27 901H637.88V923.48H632.27ZM637.88 923.48H643.5V934.72H637.88ZM643.5 934.72H649.12V957.2H643.5ZM649.12 951.58H654.74V968.44H649.12ZM654.74 968.44H660.36V985.3H654.74ZM660.36 985.3H665.97V996.54H660.36ZM665.97 990.92H671.59V1007.78H665.97ZM671.59 1007.78H677.21V1019.02H671.59ZM677.21 1013.4H682.83V1030.26H677.21ZM682.83 1024.64H688.45V1035.88H682.83ZM688.45 1030.26H694.06V1041.5H688.45ZM694.06 1035.88H699.68V1047.12H694.06ZM699.68 1041.5H705.3V1052.74H699.68ZM699.68 1047.12H727.77V1052.74H699.68ZM722.15 1041.5H727.77V1052.74H722.15ZM722.15 1041.5H744.63V1047.12H722.15ZM739.01 1035.88H744.63V1047.12H739.01ZM739.01 1035.88H789.57V1041.5H739.01ZM761.48 1030.26H767.1V1035.88H761.48ZM789.57 1041.5H800.81V1047.12H789.57ZM795.19 1041.5H800.81V1052.74H795.19ZM800.81 1047.12H806.42V1058.36H800.81ZM800.81 1052.74H812.04V1058.36H800.81ZM812.04 1058.36H823.28V1063.98H812.04ZM817.66 1058.36H823.28V1069.6H817.66ZM823.28 1063.98H828.9V1075.22H823.28ZM828.9 1069.6H834.51V1080.84H828.9ZM834.51 1075.22H840.13V1086.46H834.51ZM834.51 1080.84H851.37V1086.46H834.51ZM845.75 1080.84H851.37V1092.08H845.75ZM845.75 1086.46H862.6V1092.08H845.75ZM856.99 1086.46H862.6V1097.7H856.99ZM856.99 1092.08H873.84V1097.7H856.99ZM868.22 1092.08H873.84V1103.32H868.22ZM868.22 1097.7H885.08V1103.32H868.22ZM879.46 1097.7H885.08V1108.94H879.46ZM879.46 1103.32H896.31V1108.94H879.46ZM896.31 1108.94H913.17V1114.56H896.31ZM907.55 1108.94H913.17V1120.18H907.55ZM907.55 1114.56H930.02V1120.18H907.55ZM924.4 1114.56H930.02V1125.8H924.4ZM924.4 1120.18H952.49V1125.8H924.4ZM952.49 1125.8H997.44V1131.42H952.49ZM997.44 1131.42H1216.54V1137.04H997.44ZM1210.92 1131.42H1216.54V1142.66H1210.92ZM1210.92 1137.04H1840.14V1142.66H1210.92Z"/>
<path fill="#00f" d="M407.55 119.82H413.16V282.8H407.55ZM413.16 159.16H418.78V344.62H413.16ZM418.78 344.62H424.4V518.84H418.78ZM424.4 518.84H430.02V676.2H424.4ZM430.02 676.2H435.64V766.12H430.02ZM435.64 766.12H441.25V822.32H435.64ZM441.25 822.32H446.87V850.42H441.25ZM446.87 844.8H452.49V867.28H446.87ZM446.87 861.66H463.73V867.28H446.87ZM458.11 856.04H463.73V867.28H458.11ZM463.73 839.18H469.34V861.66H463.73ZM469.34 811.08H474.96V839.18H469.34ZM474.96 788.6H480.58V811.08H474.96ZM480.58 766.12H486.2V794.22H480.58ZM486.2 754.88H491.82V766.12H486.2ZM491.82 749.26H497.43V760.5H491.82ZM497.43 754.88H503.05V777.36H497.43ZM503.05 771.74H508.67V811.08H503.05ZM508.67 811.08H514.29V850.42H508.67ZM514.29 850.42H519.91V901H514.29ZM519.91 901H525.52V934.72H519.91ZM525.52 934.72H531.14V951.58H525.52ZM525.52 945.96H542.38V951.58H525.52ZM536.76 934.72H542.38V951.58H536.76ZM542.38 912.24H548V934.72H542.38ZM548 889.76H553.61V912.24H548ZM553.61 856.04H559.23V889.76H553.61ZM559.23 822.32H564.85V856.04H559.23ZM564.85 799.84H570.47V822.32H564.85ZM570.47 771.74H576.09V799.84H570.47ZM576.09 749.26H581.7V771.74H576.09ZM581.7 738.02H587.32V749.26H581.7ZM587.32 732.4H598.56V738.02H587.32ZM592.94 732.4H598.56V743.64H592.94ZM598.56 738.02H604.18V754.88H598.56ZM604.18 754.88H609.79V782.98H604.18ZM609.79 782.98H615.41V827.94H609.79ZM615.41 827.94H621.03V878.52H615.41ZM621.03 878.52H626.65V917.86H621.03ZM626.65 917.86H632.27V951.58H626.65ZM632.27 951.58H637.88V985.3H632.27ZM637.88 985.3H643.5V1002.16H637.88ZM643.5 996.54H649.12V1019.02H643.5ZM649.12 1013.4H654.74V1030.26H649.12ZM654.74 1024.64H660.36V1035.88H654.74ZM660.36 1035.88H665.97V1041.5H660.36ZM665.97 1041.5H671.59V1052.74H665.97ZM671.59 1047.12H677.21V1058.36H671.59ZM677.21 1052.74H682.83V1063.98H677.21ZM682.83 1058.36H688.45V1075.22H682.83ZM688.45 1069.6H694.06V1080.84H688.45ZM694.06 1075.22H699.68V1086.46H694.06ZM699.68 1080.84H705.3V1092.08H699.68ZM705.3 1092.08H710.92V1097.7H705.3ZM710.92 1097.7H722.15V1103.32H710.92ZM716.54 1097.7H722.15V1108.94H716.54ZM716.54 1103.32H733.39V1108.94H716.54ZM733.39 1108.94H744.63V1114.56H733.39ZM739.01 1103.32H744.63V1114.56H739.01ZM739.01 1103.32H778.33V1108.94H739.01ZM778.33 1108.94H795.19V1114.56H778.33ZM789.57 1108.94H795.19V1120.18H789.57ZM789.57 1114.56H806.42V1120.18H789.57ZM800.81 1114.56H806.42V1125.8H800.81ZM800.81 1120.18H817.66V1125.8H800.81ZM812.04 1120.18H817.66V1131.42H812.04ZM812.04 1125.8H823.28V1131.42H812.04ZM817.66 1125.8H823.28V1137.04H817.66ZM817.66 1131.42H834.51V1137.04H817.66ZM834.51 1137.04H851.37V1142.66H834.51ZM851.37 1142.66H1840.14V1148.28H851.37Z"/>
</g>
</svg>
</body>
</html>
